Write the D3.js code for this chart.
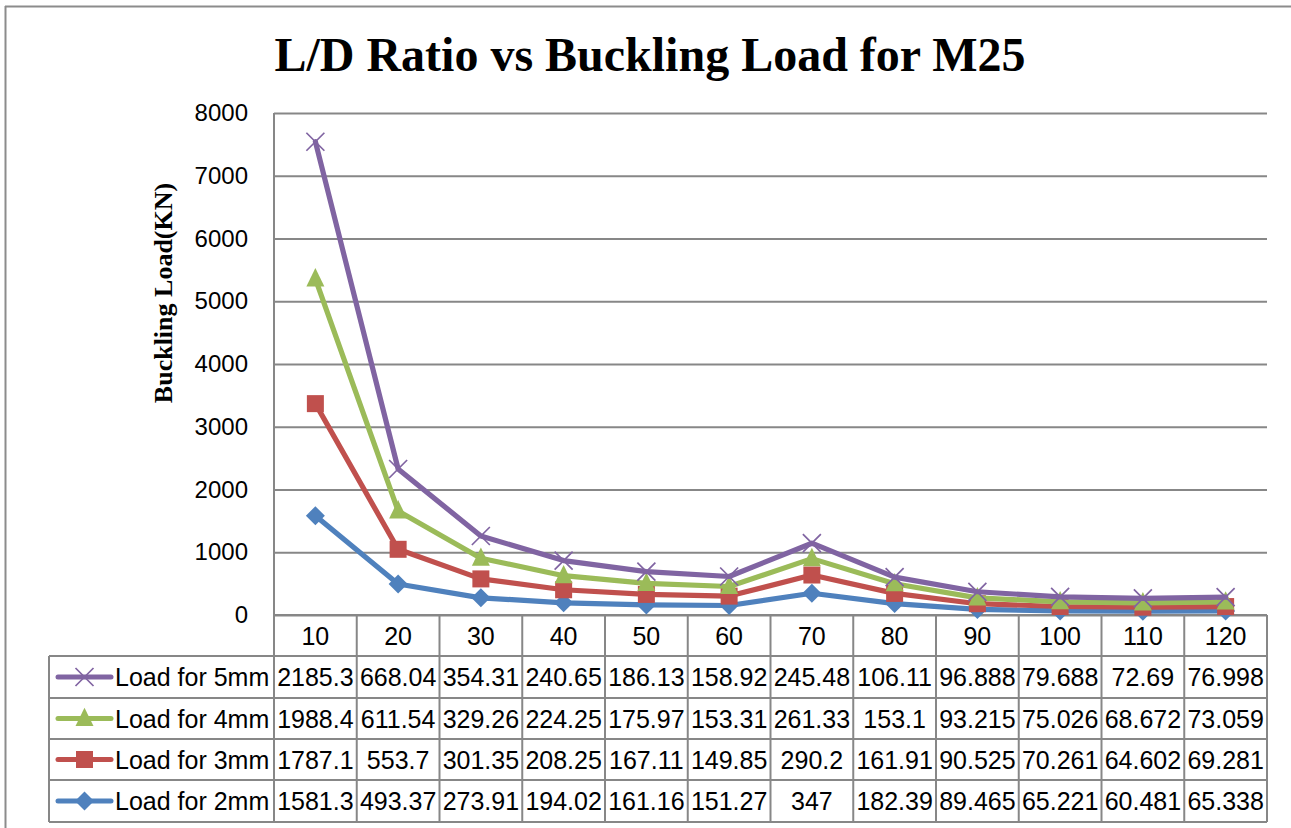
<!DOCTYPE html>
<html>
<head>
<meta charset="utf-8">
<script src="https://cdn.jsdelivr.net/npm/d3@7"></script>
<style>
  html, body { margin: 0; padding: 0; background: #fff; }
  svg { display: block; }
</style>
</head>
<body>
<svg id="chart" width="1291" height="828"></svg>
<script>
// ---- data ----
const categories = [10, 20, 30, 40, 50, 60, 70, 80, 90, 100, 110, 120];
const load2mm = [1581.3, 493.37, 273.91, 194.02, 161.16, 151.27, 347, 182.39, 89.465, 65.221, 60.481, 65.338];
const load3mm = [1787.1, 553.7, 301.35, 208.25, 167.11, 149.85, 290.2, 161.91, 90.525, 70.261, 64.602, 69.281];
const load4mm = [1988.4, 611.54, 329.26, 224.25, 175.97, 153.31, 261.33, 153.1, 93.215, 75.026, 68.672, 73.059];
const load5mm = [2185.3, 668.04, 354.31, 240.65, 186.13, 158.92, 245.48, 106.11, 96.888, 79.688, 72.69, 76.998];
const seriesNames = ["Load for 2mm", "Load for 3mm", "Load for 4mm", "Load for 5mm"];
const tableOrder = ["Load for 5mm", "Load for 4mm", "Load for 3mm", "Load for 2mm"];
const yTicks = [0, 1000, 2000, 3000, 4000, 5000, 6000, 7000, 8000];
const titleText = "L/D Ratio vs Buckling Load for M25";
const yAxisTitle = "Buckling Load(KN)";

const seriesValues = {
  "Load for 2mm": load2mm,
  "Load for 3mm": load3mm,
  "Load for 4mm": load4mm,
  "Load for 5mm": load5mm
};
const colors = {
  "Load for 2mm": "#4F81BD",
  "Load for 3mm": "#C0504D",
  "Load for 4mm": "#9BBB59",
  "Load for 5mm": "#8064A2"
};
const markers = {
  "Load for 2mm": "diamond",
  "Load for 3mm": "square",
  "Load for 4mm": "triangle",
  "Load for 5mm": "cross"
};

// ---- layout ----
const svg = d3.select("#chart");
const L = 274, R = 1267, T = 113, B = 615;
const rowYs = [615, 656, 698, 739, 780, 822];
const tableLeft = 49;
const gridColor = "#878787";
const textFont = "'Liberation Sans', Arial, sans-serif";

// outer frame
svg.append("line").attr("x1", 5).attr("x2", 1291).attr("y1", 6.5).attr("y2", 6.5)
  .attr("stroke", "#8c8c8c").attr("stroke-width", 2);
svg.append("line").attr("x1", 5.5).attr("x2", 5.5).attr("y1", 6).attr("y2", 828)
  .attr("stroke", "#8c8c8c").attr("stroke-width", 2);

const x = d3.scaleBand().domain(categories).range([L, R]).padding(0);
const y = d3.scaleLinear().domain([0, 8000]).range([B, T]);

// title
svg.append("text").attr("x", 650).attr("y", 71).attr("text-anchor", "middle")
  .attr("font-family", "'Liberation Serif', 'Times New Roman', serif")
  .attr("font-weight", "bold").attr("font-size", 48).text(titleText);

// y axis title
svg.append("text")
  .attr("transform", "translate(172,293) rotate(-90)")
  .attr("text-anchor", "middle")
  .attr("font-family", "'Liberation Serif', 'Times New Roman', serif")
  .attr("font-weight", "bold").attr("font-size", 26).text(yAxisTitle);

// y axis with gridlines
const yAxis = svg.append("g").attr("transform", `translate(${L},0)`)
  .call(d3.axisLeft(y).tickValues(yTicks).tickSize(-(R - L)).tickPadding(26).tickFormat(d3.format("d")));
yAxis.select(".domain").remove();
yAxis.selectAll(".tick line").attr("stroke", gridColor).attr("stroke-width", 2);
yAxis.selectAll(".tick text").attr("font-family", textFont).attr("font-size", 24).attr("fill", "#000");

// y axis line (left edge) from top through table
svg.append("line").attr("x1", L).attr("x2", L).attr("y1", T).attr("y2", rowYs[rowYs.length - 1])
  .attr("stroke", gridColor).attr("stroke-width", 2);

// ---- data table ----
const tbl = svg.append("g");
rowYs.forEach((ry, i) => {
  tbl.append("line")
    .attr("x1", i === 0 ? L : tableLeft).attr("x2", R)
    .attr("y1", ry).attr("y2", ry)
    .attr("stroke", gridColor).attr("stroke-width", 2);
});
categories.forEach(c => {
  const xr = x(c) + x.bandwidth();
  tbl.append("line").attr("x1", xr).attr("x2", xr).attr("y1", rowYs[0]).attr("y2", rowYs[5])
    .attr("stroke", gridColor).attr("stroke-width", 2);
});
tbl.append("line").attr("x1", tableLeft).attr("x2", tableLeft).attr("y1", rowYs[1]).attr("y2", rowYs[5])
  .attr("stroke", gridColor).attr("stroke-width", 2);

categories.forEach(c => {
  tbl.append("text").attr("x", x(c) + x.bandwidth() / 2).attr("y", (rowYs[0] + rowYs[1]) / 2 + 9)
    .attr("text-anchor", "middle").attr("font-family", textFont).attr("font-size", 25).text(c);
});

function drawMarker(g, type, cx, cy, color, s) {
  if (type === "diamond") {
    const r = s / 2;
    g.append("path").attr("d", `M${cx},${cy - r} L${cx + r},${cy} L${cx},${cy + r} L${cx - r},${cy} Z`).attr("fill", color);
  } else if (type === "square") {
    g.append("rect").attr("x", cx - s / 2).attr("y", cy - s / 2).attr("width", s).attr("height", s).attr("fill", color);
  } else if (type === "triangle") {
    g.append("path").attr("d", `M${cx},${cy - s * 0.6} L${cx + s / 2},${cy + s * 0.42} L${cx - s / 2},${cy + s * 0.42} Z`).attr("fill", color);
  } else if (type === "cross") {
    const r = s / 2;
    g.append("path").attr("d", `M${cx - r},${cy - r} L${cx + r},${cy + r} M${cx - r},${cy + r} L${cx + r},${cy - r}`)
      .attr("stroke", color).attr("stroke-width", 1.7).attr("fill", "none");
  }
}

const markerSize = { "diamond": 19, "square": 17, "triangle": 18, "cross": 18 };

tableOrder.forEach((name, i) => {
  const top = rowYs[i + 1], bot = rowYs[i + 2];
  const mid = (top + bot) / 2;
  tbl.append("line").attr("x1", 58).attr("x2", 111).attr("y1", mid).attr("y2", mid)
    .attr("stroke", colors[name]).attr("stroke-width", 5).attr("stroke-linecap", "round");
  drawMarker(tbl, markers[name], 84.5, mid, colors[name], markerSize[markers[name]]);
  tbl.append("text").attr("x", 115).attr("y", mid + 9).attr("font-family", textFont).attr("font-size", 25).text(name);
  seriesValues[name].forEach((v, j) => {
    tbl.append("text").attr("x", x(categories[j]) + x.bandwidth() / 2).attr("y", mid + 9)
      .attr("text-anchor", "middle").attr("font-family", textFont).attr("font-size", 25).text(v);
  });
});

// ---- stacked lines ----
const rows = categories.map((c, j) => {
  const o = { cat: c };
  seriesNames.forEach(n => o[n] = seriesValues[n][j]);
  return o;
});
const stacked = d3.stack().keys(seriesNames)(rows);

const lineGen = d3.line().x(d => x(d.data.cat) + x.bandwidth() / 2).y(d => y(d[1]));
const plot = svg.append("g");
stacked.forEach(s => {
  const name = s.key;
  plot.append("path").datum(s).attr("d", lineGen).attr("fill", "none")
    .attr("stroke", colors[name]).attr("stroke-width", 5.2).attr("stroke-linejoin", "round").attr("stroke-linecap", "round");
  s.forEach(d => drawMarker(plot, markers[name], x(d.data.cat) + x.bandwidth() / 2, y(d[1]), colors[name], markerSize[markers[name]]));
});
</script>
</body>
</html>
